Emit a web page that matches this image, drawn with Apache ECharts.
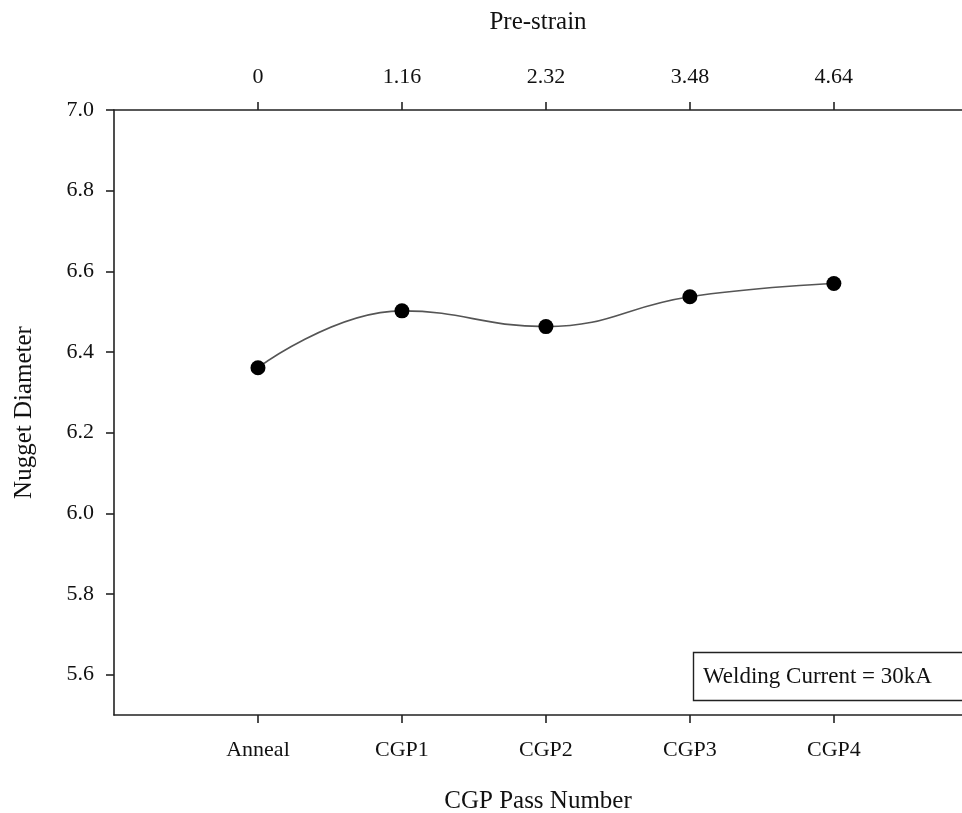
<!DOCTYPE html>
<html>
<head>
<meta charset="utf-8">
<script src="https://cdn.jsdelivr.net/npm/echarts@6/dist/echarts.min.js"></script>
<style>
html,body{margin:0;padding:0;background:#fff;}
#chart{width:962px;height:813px;}
</style>
</head>
<body>
<div id="chart"></div>
<script>
const categories = ['Anneal', 'CGP1', 'CGP2', 'CGP3', 'CGP4'];
const preStrain = ['0', '1.16', '2.32', '3.48', '4.64'];
const nuggetDiameter = [6.361, 6.502, 6.463, 6.537, 6.570];
const yTicks = [5.6, 5.8, 6.0, 6.2, 6.4, 6.6, 6.8, 7.0];
const xPositions = [1, 2, 3, 4, 5];
const annotation = 'Welding Current = 30kA';

const FONT = '"Liberation Serif", "Times New Roman", serif';
const TXT = '#111';

const chart = echarts.init(document.getElementById('chart'), null, {renderer: 'canvas'});

function labelFor(list) {
  return function (v) {
    const i = xPositions.indexOf(Math.round(v));
    return i >= 0 ? list[i] : '';
  };
}

const axisLineStyle = {color: '#222', width: 1.6};

chart.setOption({
  animation: false,
  backgroundColor: '#fff',
  title: {
    text: annotation,
    left: 693,
    top: 652,
    padding: [12, 40, 12, 10],
    borderColor: '#222',
    borderWidth: 1.4,
    textStyle: {fontFamily: FONT, fontSize: 23, fontWeight: 'normal', color: TXT, lineHeight: 25}
  },
  grid: {left: 114, top: 110, right: 0, bottom: 98, containLabel: false, outerBoundsMode: 'none'},
  xAxis: [
    {
      type: 'value',
      position: 'bottom',
      min: 0,
      max: 5.89,
      name: 'CGP Pass Number',
      nameLocation: 'middle',
      nameGap: 74,
      nameTextStyle: {fontFamily: FONT, fontSize: 25, color: TXT},
      axisLine: {show: true, onZero: false, lineStyle: axisLineStyle},
      axisTick: {show: true, inside: false, length: 8, customValues: xPositions, lineStyle: axisLineStyle},
      axisLabel: {customValues: xPositions, margin: 24, fontFamily: FONT, fontSize: 22, color: TXT, formatter: labelFor(categories)},
      splitLine: {show: false}
    },
    {
      type: 'value',
      position: 'top',
      min: 0,
      max: 5.89,
      name: 'Pre-strain',
      nameLocation: 'middle',
      nameGap: 75,
      nameTextStyle: {fontFamily: FONT, fontSize: 25, color: TXT},
      axisLine: {show: true, onZero: false, lineStyle: axisLineStyle},
      axisTick: {show: true, inside: false, length: 8, customValues: xPositions, lineStyle: axisLineStyle},
      axisLabel: {customValues: xPositions, margin: 22, fontFamily: FONT, fontSize: 22, color: TXT, formatter: labelFor(preStrain)},
      splitLine: {show: false}
    }
  ],
  yAxis: {
    type: 'value',
    min: 5.5,
    max: 7.0,
    name: 'Nugget Diameter',
    nameLocation: 'middle',
    nameGap: 77,
    nameTextStyle: {fontFamily: FONT, fontSize: 25, color: TXT},
    axisLine: {show: true, onZero: false, lineStyle: axisLineStyle},
    axisTick: {show: true, inside: false, length: 8, customValues: yTicks, lineStyle: axisLineStyle},
    axisLabel: {customValues: yTicks, margin: 20, fontFamily: FONT, fontSize: 22, color: TXT, formatter: function (v) { return v.toFixed(1); }},
    splitLine: {show: false}
  },
  series: [
    {
      type: 'line',
      xAxisIndex: 0,
      data: xPositions.map(function (x, i) { return [x, nuggetDiameter[i]]; }),
      smooth: 0.45,
      symbol: 'circle',
      symbolSize: 15,
      itemStyle: {color: '#000'},
      lineStyle: {color: '#555', width: 1.6}
    }
  ]
});
</script>
</body>
</html>
